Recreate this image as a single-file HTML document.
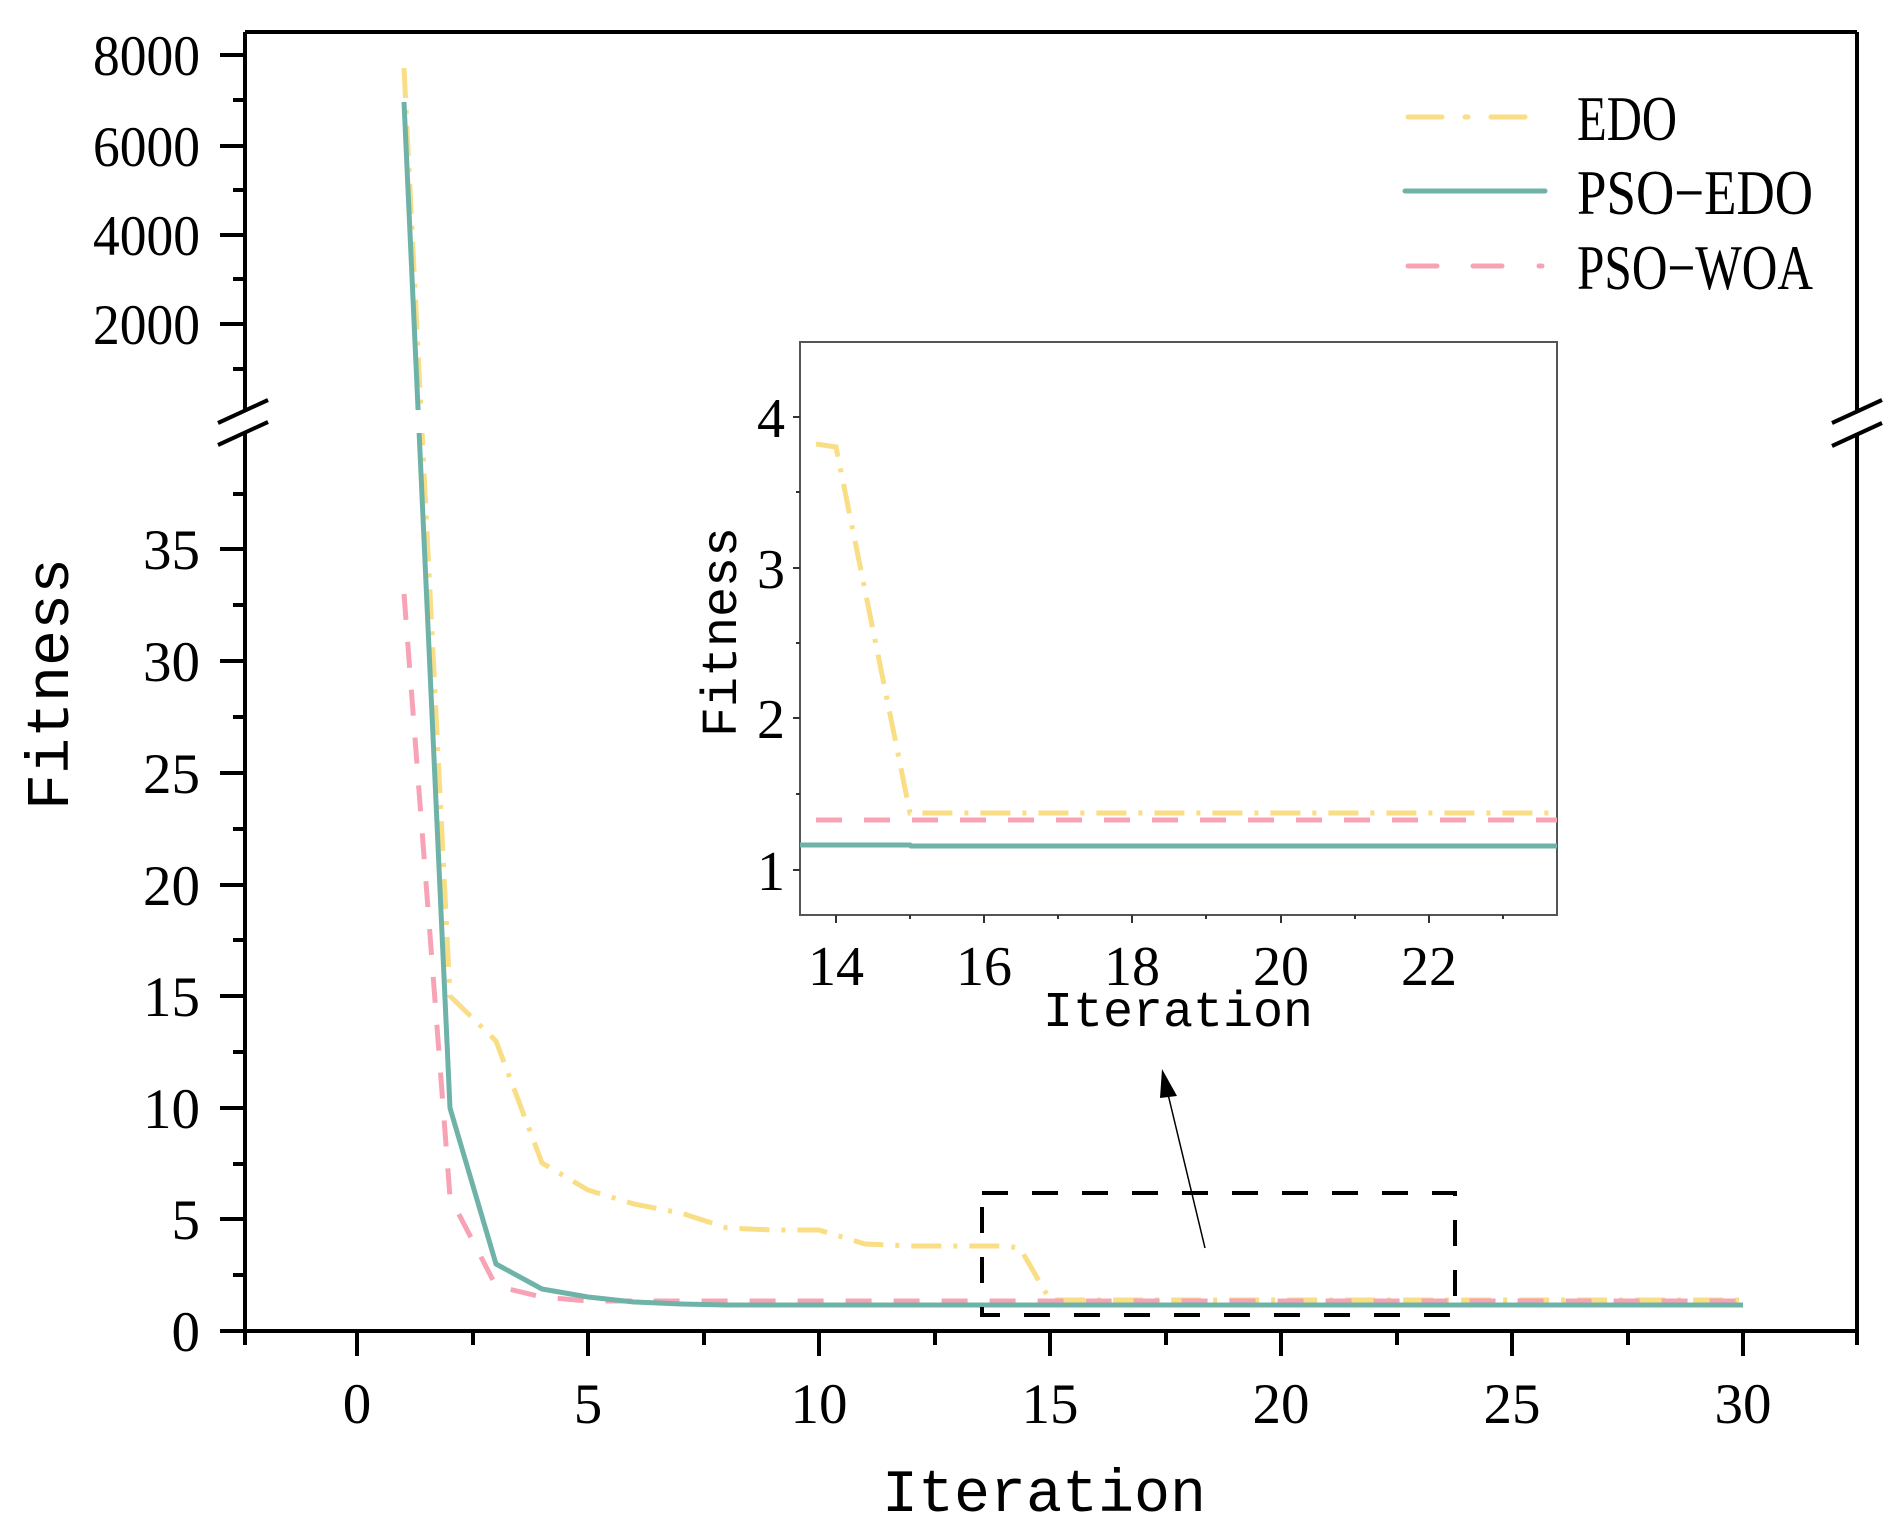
<!DOCTYPE html>
<html><head><meta charset="utf-8"><style>html,body{margin:0;padding:0;background:#fff}svg{display:block}</style></head>
<body>
<svg width="1899" height="1533" viewBox="0 0 1899 1533" xmlns="http://www.w3.org/2000/svg">
<defs>
<clipPath id="low"><rect x="245" y="433" width="1612" height="900"/></clipPath>
<clipPath id="up"><rect x="245" y="32" width="1612" height="378"/></clipPath>
<clipPath id="ins"><rect x="800" y="342" width="757" height="573"/></clipPath>
</defs>
<g stroke="#000" stroke-width="4" fill="none">
<line x1="245" y1="32" x2="1857" y2="32"/>
<line x1="245" y1="32" x2="245" y2="410"/>
<line x1="245" y1="433" x2="245" y2="1331"/>
<line x1="1857" y1="32" x2="1857" y2="410"/>
<line x1="1857" y1="433" x2="1857" y2="1331"/>
<line x1="220" y1="1331" x2="1857" y2="1331"/>
<line x1="218" y1="423" x2="268" y2="400"/>
<line x1="218" y1="445" x2="268" y2="422"/>
<line x1="1832" y1="423" x2="1882" y2="400"/>
<line x1="1832" y1="446" x2="1882" y2="423"/>
<line x1="220" y1="55" x2="245" y2="55"/><line x1="220" y1="146" x2="245" y2="146"/><line x1="220" y1="235" x2="245" y2="235"/><line x1="220" y1="324" x2="245" y2="324"/>
<line x1="233" y1="100" x2="245" y2="100"/><line x1="233" y1="190" x2="245" y2="190"/><line x1="233" y1="279" x2="245" y2="279"/><line x1="233" y1="369" x2="245" y2="369"/>
<line x1="220" y1="1108" x2="245" y2="1108"/><line x1="220" y1="1219" x2="245" y2="1219"/>
<line x1="220" y1="996" x2="245" y2="996"/><line x1="220" y1="885" x2="245" y2="885"/><line x1="220" y1="773" x2="245" y2="773"/><line x1="220" y1="661" x2="245" y2="661"/><line x1="220" y1="549" x2="245" y2="549"/>
<line x1="233" y1="1275" x2="245" y2="1275"/><line x1="233" y1="1164" x2="245" y2="1164"/><line x1="233" y1="1052" x2="245" y2="1052"/><line x1="233" y1="940" x2="245" y2="940"/><line x1="233" y1="829" x2="245" y2="829"/><line x1="233" y1="717" x2="245" y2="717"/><line x1="233" y1="605" x2="245" y2="605"/><line x1="233" y1="494" x2="245" y2="494"/>
<line x1="245" y1="1331" x2="245" y2="1345"/>
<line x1="357" y1="1331" x2="357" y2="1356"/><line x1="588" y1="1331" x2="588" y2="1356"/><line x1="819" y1="1331" x2="819" y2="1356"/><line x1="1050" y1="1331" x2="1050" y2="1356"/><line x1="1281" y1="1331" x2="1281" y2="1356"/><line x1="1512" y1="1331" x2="1512" y2="1356"/><line x1="1743" y1="1331" x2="1743" y2="1356"/>
<line x1="473" y1="1331" x2="473" y2="1345"/><line x1="704" y1="1331" x2="704" y2="1345"/><line x1="935" y1="1331" x2="935" y2="1345"/><line x1="1166" y1="1331" x2="1166" y2="1345"/><line x1="1397" y1="1331" x2="1397" y2="1345"/><line x1="1628" y1="1331" x2="1628" y2="1345"/><line x1="1857" y1="1331" x2="1857" y2="1345"/>
</g>
<g font-family="Liberation Serif, serif" font-size="57" fill="#000" text-anchor="end">
<text x="200" y="75" textLength="107" lengthAdjust="spacingAndGlyphs">8000</text><text x="200" y="166" textLength="107" lengthAdjust="spacingAndGlyphs">6000</text><text x="200" y="255" textLength="107" lengthAdjust="spacingAndGlyphs">4000</text><text x="200" y="344" textLength="107" lengthAdjust="spacingAndGlyphs">2000</text>
<text x="200" y="569">35</text><text x="200" y="681">30</text><text x="200" y="793">25</text><text x="200" y="905">20</text><text x="200" y="1016">15</text><text x="200" y="1128">10</text><text x="200" y="1239">5</text><text x="200" y="1351">0</text>
</g>
<g font-family="Liberation Serif, serif" font-size="57" fill="#000" text-anchor="middle">
<text x="357" y="1423">0</text><text x="588" y="1423">5</text><text x="819" y="1423">10</text><text x="1050" y="1423">15</text><text x="1281" y="1423">20</text><text x="1512" y="1423">25</text><text x="1743" y="1423">30</text>
</g>
<text x="1044" y="1511" font-family="Liberation Mono, monospace" font-size="60" text-anchor="middle">Iteration</text>
<text transform="translate(68,684) rotate(-90)" font-family="Liberation Mono, monospace" font-size="60" text-anchor="middle">Fitness</text>

<g fill="none" stroke-width="5" stroke-linejoin="round">
<g clip-path="url(#up)">
<polyline stroke="#f9de85" stroke-dasharray="30 12 4 12" points="404,68 450,996"/>
<polyline stroke="#6fb3a8" points="404,102 450,1108"/>
</g>
<g clip-path="url(#low)">
<polyline stroke="#f9de85" stroke-dasharray="30 12 4 12" points="404,68 450,996 496,1041 542,1163 588,1190 634,1204 681,1213 727,1228 773,1230 819,1230 865,1244 911,1246 958,1246 1004,1246 1020,1248 1050,1300 1096,1300 1743,1300"/>
<polyline stroke="#f7a3b5" stroke-dasharray="26 22" points="404,594 450,1197 496,1286 542,1297 588,1301 1743,1301"/>
<polyline stroke="#6fb3a8" points="404,102 450,1108 496,1264 542,1289 588,1297 634,1302 681,1304 727,1305 1743,1305"/>
</g>
</g>

<rect x="982" y="1193" width="473" height="122" fill="none" stroke="#000" stroke-width="4" stroke-dasharray="26 24"/>
<line x1="1205" y1="1248" x2="1167" y2="1090" stroke="#000" stroke-width="1.5"/>
<polygon points="1162,1069 1177,1096 1160,1098" fill="#000"/>

<g stroke-width="5" fill="none" stroke-linecap="round">
<line x1="1408" y1="117" x2="1442" y2="117" stroke="#f9de85"/><line x1="1465" y1="117" x2="1468" y2="117" stroke="#f9de85"/><line x1="1491" y1="117" x2="1525" y2="117" stroke="#f9de85"/>
<line x1="1405" y1="191" x2="1545" y2="191" stroke="#6fb3a8"/>
<line x1="1408" y1="266" x2="1437" y2="266" stroke="#f7a3b5"/><line x1="1473" y1="266" x2="1502" y2="266" stroke="#f7a3b5"/><line x1="1539" y1="266" x2="1542" y2="266" stroke="#f7a3b5"/>
</g>
<g font-family="Liberation Serif, serif" font-size="64" fill="#000">
<text x="1577" y="140" textLength="100" lengthAdjust="spacingAndGlyphs">EDO</text>
<text x="1577" y="214" textLength="236" lengthAdjust="spacingAndGlyphs">PSO−EDO</text>
<text x="1577" y="289" textLength="236" lengthAdjust="spacingAndGlyphs">PSO−WOA</text>
</g>

<rect x="800" y="342" width="757" height="573" fill="#fff" stroke="#555" stroke-width="2"/>
<g stroke="#333" stroke-width="2">
<line x1="793" y1="417" x2="800" y2="417"/><line x1="793" y1="568" x2="800" y2="568"/><line x1="793" y1="718" x2="800" y2="718"/><line x1="793" y1="870" x2="800" y2="870"/>
<line x1="796" y1="492" x2="800" y2="492"/><line x1="796" y1="643" x2="800" y2="643"/><line x1="796" y1="794" x2="800" y2="794"/>
<line x1="836" y1="915" x2="836" y2="923"/><line x1="984" y1="915" x2="984" y2="923"/><line x1="1132" y1="915" x2="1132" y2="923"/><line x1="1281" y1="915" x2="1281" y2="923"/><line x1="1429" y1="915" x2="1429" y2="923"/>
<line x1="910" y1="915" x2="910" y2="919"/><line x1="1058" y1="915" x2="1058" y2="919"/><line x1="1206" y1="915" x2="1206" y2="919"/><line x1="1355" y1="915" x2="1355" y2="919"/><line x1="1503" y1="915" x2="1503" y2="919"/>
</g>
<g font-family="Liberation Serif, serif" font-size="56" fill="#000" text-anchor="end">
<text x="785" y="437">4</text><text x="785" y="588">3</text><text x="785" y="738">2</text><text x="785" y="890">1</text>
</g>
<g font-family="Liberation Serif, serif" font-size="56" fill="#000" text-anchor="middle">
<text x="836" y="985">14</text><text x="984" y="985">16</text><text x="1132" y="985">18</text><text x="1281" y="985">20</text><text x="1429" y="985">22</text>
</g>
<text x="1178" y="1026" font-family="Liberation Mono, monospace" font-size="50" text-anchor="middle">Iteration</text>
<text transform="translate(736,632) rotate(-90)" font-family="Liberation Mono, monospace" font-size="50" text-anchor="middle">Fitness</text>
<g clip-path="url(#ins)" fill="none" stroke-width="5">
<polyline stroke="#f9de85" stroke-dasharray="30 12 4 12" points="816,444 836,447 910,813 1557,813"/>
<polyline stroke="#f7a3b5" stroke-dasharray="26 22" points="816,820 1557,820"/>
<polyline stroke="#6fb3a8" points="800,845 910,845 911,846 1557,846"/>
</g>
</svg>
</body></html>
